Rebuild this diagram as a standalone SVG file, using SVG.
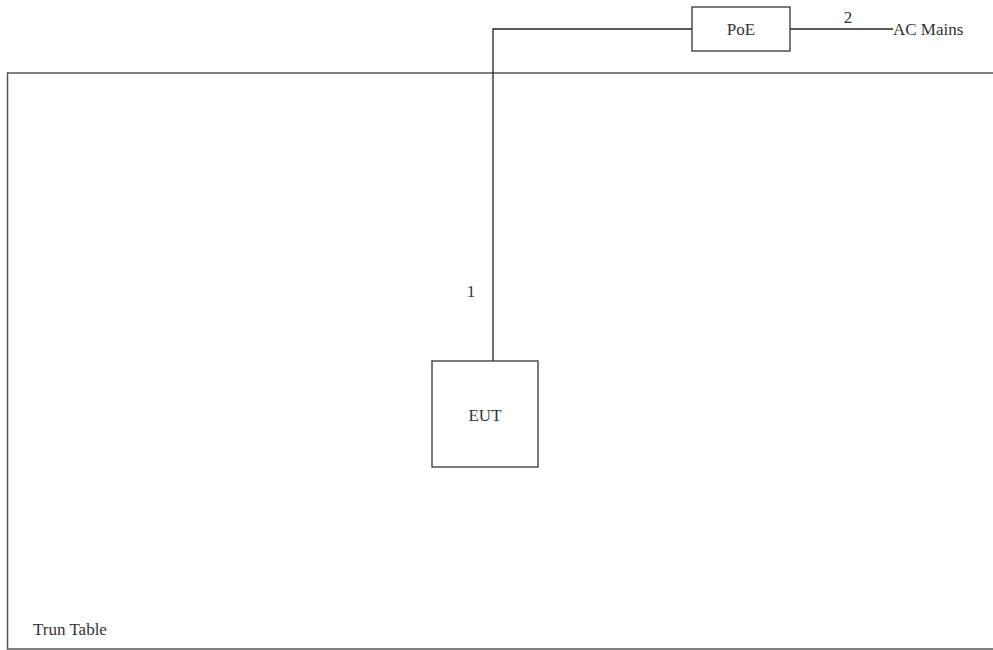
<svg xmlns="http://www.w3.org/2000/svg" width="993" height="650" viewBox="0 0 993 650">
<style>
.box{fill:#fff;stroke:#333;stroke-width:1.3}
.ln{fill:none;stroke:#222;stroke-width:1.3}
.t{font-family:'Liberation Serif','Times New Roman',serif;font-size:17px;fill:#333}
</style>
<rect x="0" y="0" width="993" height="650" fill="#fff"/>
<g id="table">
<path class="ln" d="M1000,73 H7.5 V649 H1000" style="stroke:#555;stroke-width:1.5"/>
<text class="t" x="33" y="635" font-family="Liberation Serif, serif">Trun Table</text>
</g>
<g id="connectors">
<path class="ln" d="M493,361 V29 H692"/>
<path class="ln" d="M790,29 H893"/>
<text class="t" x="471" y="297" text-anchor="middle" font-family="Liberation Serif, serif">1</text>
<text class="t" x="848" y="23" text-anchor="middle" font-family="Liberation Serif, serif">2</text>
</g>
<g id="poe">
<rect class="box" x="692" y="7" width="98" height="44"/>
<text class="t" x="741" y="35" text-anchor="middle" font-family="Liberation Serif, serif">PoE</text>
</g>
<g id="eut">
<rect class="box" x="432" y="361" width="106" height="106"/>
<text class="t" x="485" y="421" text-anchor="middle" font-family="Liberation Serif, serif">EUT</text>
</g>
<g id="ac">
<text class="t" x="893" y="35" font-family="Liberation Serif, serif">AC Mains</text>
</g>
</svg>
